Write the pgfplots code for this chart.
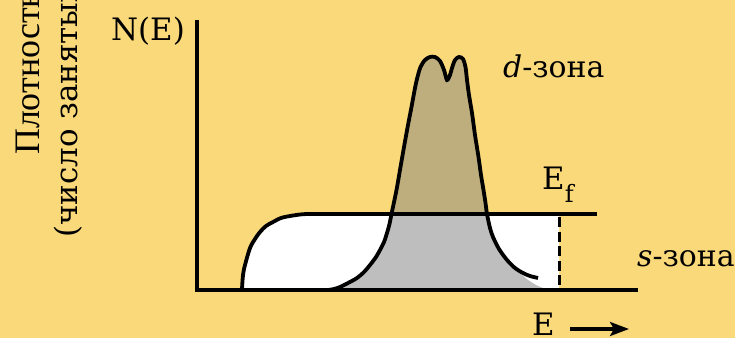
\documentclass[border=0pt]{standalone}
\usepackage{fontspec}
\setmainfont{DejaVu Serif}
\newfontfamily\lserif{Liberation Serif}
\usepackage{pgfplots}
\pgfplotsset{compat=1.18}
\usetikzlibrary{arrows.meta}
\definecolor{bgyellow}{HTML}{FAD97B}
\definecolor{dtan}{HTML}{BFAE7D}
\definecolor{sgray}{HTML}{BEBEBE}

\begin{document}
\begin{tikzpicture}
\clip (0,0) rectangle (735bp,338bp);
\fill[bgyellow] (0,0) rectangle (735bp,338bp);
\begin{axis}[
    at={(0,0)}, anchor=south west,
    width=735bp, height=338bp, scale only axis,
    xmin=0, xmax=735, ymin=0, ymax=338, y dir=reverse,
    hide axis, clip=false,
]
% s-zone, occupied part (white)
\addplot[fill=white, draw=none] coordinates {
  (242,289) (243,275) (245,265) (250,248) (255,239) (260,232) (266,226)
  (273,222) (281,218) (290,216) (300,214.5) (307,214) (559,214) (559,289)};
% d-zone below E_f (grey)
\addplot[fill=sgray, draw=none] coordinates {
  (328,290) (334,289) (340,287) (348,283) (357,278) (364,272) (370,265)
  (376,257) (380,250) (384,242) (387,233) (389.5,224) (391.5,214)
  (487,214) (490,228) (493,237) (499,249)
  (505,257) (512,265) (520,273) (528,280) (536,285) (545,289)};
% d-zone above E_f (tan)
\addplot[fill=dtan, draw=none, smooth] coordinates {
  (391.5,214) (396.5,190) (400.5,167) (404,147) (408,125) (411.5,107)
  (415,88) (417.5,77) (420.5,67) (425,60) (430,57) (435,57) (440,61)
  (444,70) (447,80) (450,75) (452,68) (455,60) (459,57) (463,59) (465.5,67)
  (467,80) (469,95) (472,113) (475,135) (478.5,157) (481,175) (483.5,190)
  (485.5,203) (487,214)};
% axes
\addplot[black, line width=3.4bp] coordinates {(197,20) (197,290) (638,290)};
% s-zone outline and Fermi level
\addplot[black, line width=3.8bp, smooth] coordinates {
  (242,289) (243,275) (245,265) (250,248) (255,239) (260,232) (266,226)
  (273,222) (281,218) (290,216) (300,214.5) (307,214)};
\addplot[black, line width=3.8bp] coordinates {(306,214) (597,214)};
% d-zone outline
\addplot[black, line width=3.8bp, smooth] coordinates {
  (328,290) (334,289) (340,287) (348,283) (357,278) (364,272) (370,265)
  (376,257) (380,250) (384,242) (387,233) (389.5,224) (391.5,214)
  (396.5,190) (400.5,167) (404,147) (408,125) (411.5,107)
  (415,88) (417.5,77) (420.5,67) (425,60) (430,57) (435,57) (440,61)
  (444,70) (447,80) (450,75) (452,68) (455,60) (459,57) (463,59) (465.5,67)
  (467,80) (469,95) (472,113) (475,135) (478.5,157) (481,175) (483.5,190)
  (485.5,203) (487,214) (490,228) (493,237) (499,249) (507,260) (515,268)
  (523,273) (530,276) (538,278)};
% upper edge of filled s-states
\addplot[black, line width=3bp, dash pattern=on 10bp off 4.5bp] coordinates {(559,217) (559,289)};

\node[rotate=90, anchor=base west, inner sep=0,
      font=\lserif\fontsize{36}{40}\selectfont] at (axis cs:39,155) {Плотность состояний};
\node[rotate=90, anchor=base west, inner sep=0,
      font=\fontsize{31}{36}\selectfont] at (axis cs:77,238) {(число занятых состояний)};
\node[anchor=base, inner sep=0, font=\fontsize{31}{36}\selectfont] at (axis cs:148,40) {N(E)};
\node[anchor=base west, inner sep=0, font=\fontsize{30}{34}\selectfont] at (axis cs:503,77) {\textit{d}-зона};
\node[anchor=base west, inner sep=0, font=\fontsize{31}{36}\selectfont] at (axis cs:542,189)
  {E\raisebox{-13bp}{\fontsize{24}{24}\selectfont f}};
\node[anchor=base west, inner sep=0, font=\fontsize{30}{34}\selectfont] at (axis cs:637,266) {\textit{s}-зона};
\node[anchor=base west, inner sep=0, font=\fontsize{31}{36}\selectfont] at (axis cs:532,335) {E};
\draw[black, line width=3.2bp, -{Stealth[length=19bp, width=14bp, inset=4bp]}]
  (axis cs:570,329) -- (axis cs:629,329);
\end{axis}
\end{tikzpicture}
\end{document}
